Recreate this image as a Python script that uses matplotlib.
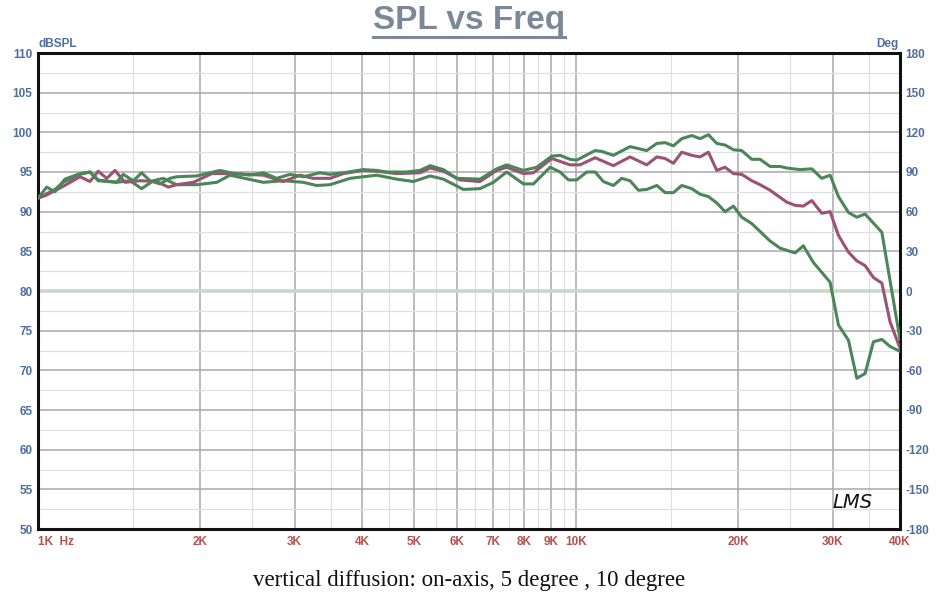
import numpy as np
import matplotlib
matplotlib.use("Agg")
import matplotlib.pyplot as plt
from matplotlib.ticker import FixedLocator, NullFormatter
from matplotlib.lines import Line2D

plt.rcParams['font.family'] = ['Liberation Sans', 'DejaVu Sans']
plt.rcParams['axes.unicode_minus'] = False

# frequencies in kHz, levels in dBSPL
f_on = [1.000, 1.038, 1.075, 1.122, 1.197, 1.249, 1.294, 1.400, 1.440, 1.504,
        1.558, 1.615, 1.685, 1.759, 1.810, 1.972, 2.178, 2.274, 2.478, 2.623,
        2.777, 2.940, 3.113, 3.340, 3.490, 3.694, 4.024, 4.261, 4.448, 4.845,
        5.129, 5.355, 5.668, 6.000, 6.630, 7.120, 7.432, 7.984, 8.454, 9.012,
        9.339, 9.746, 10.03, 10.85, 11.16, 11.73, 12.60, 13.53, 14.13, 14.64,
        15.17, 15.72, 16.41, 17.00, 17.62, 18.26, 18.92, 19.61, 20.32, 21.21,
        21.98, 22.94, 23.94, 24.64, 26.08, 27.42, 28.62, 29.66, 30.74, 32.08,
        33.25, 34.45, 37.01, 40.00]
spl_on = [91.7, 93.1, 92.5, 94.1, 94.8, 95.0, 93.9, 93.7, 94.7, 93.9,
          94.9, 93.9, 93.5, 94.2, 94.4, 94.5, 95.2, 94.9, 94.6, 94.9,
          94.2, 94.7, 94.4, 94.9, 94.7, 94.9, 95.3, 95.2, 95.0, 95.0,
          95.2, 95.8, 95.3, 94.2, 94.1, 95.4, 95.9, 95.2, 95.6, 97.0,
          97.1, 96.6, 96.5, 97.7, 97.6, 97.1, 98.2, 97.7, 98.6, 98.7,
          98.3, 99.2, 99.6, 99.2, 99.7, 98.6, 98.4, 97.8, 97.7, 96.6,
          96.6, 95.7, 95.7, 95.5, 95.3, 95.4, 94.2, 94.6, 91.9, 89.9,
          89.3, 89.7, 87.4, 73.9]

f_5 = [1.000, 1.038, 1.114, 1.197, 1.249, 1.294, 1.342, 1.390, 1.451, 1.547,
       1.661, 1.746, 1.810, 1.944, 2.104, 2.274, 2.623, 2.856, 3.071, 3.246,
       3.490, 3.694, 4.024, 4.261, 4.642, 5.129, 5.355, 5.668, 6.086, 6.630,
       7.120, 7.432, 7.984, 8.333, 9.012, 9.746, 10.17, 10.85, 11.73, 12.60,
       13.53, 14.13, 14.64, 15.17, 15.72, 16.41, 17.00, 17.62, 18.26, 18.92,
       19.61, 20.32, 21.21, 21.98, 22.94, 23.94, 24.64, 25.53, 26.45, 27.42,
       28.62, 29.66, 30.74, 32.08, 33.25, 34.45, 35.70, 37.01, 38.34, 40.00]
spl_5 = [91.7, 92.1, 93.2, 94.4, 93.8, 95.1, 94.2, 95.2, 93.7, 93.9,
         93.8, 93.1, 93.4, 93.7, 94.8, 94.8, 94.6, 93.8, 94.6, 94.2,
         94.2, 94.8, 95.2, 95.1, 94.8, 94.9, 95.5, 95.1, 94.0, 93.8,
         95.2, 95.6, 94.8, 94.9, 96.7, 95.9, 95.9, 96.8, 95.8, 96.9,
         95.9, 96.9, 96.7, 96.1, 97.5, 97.1, 96.9, 97.5, 95.2, 95.6,
         94.8, 94.7, 93.9, 93.4, 92.7, 91.8, 91.2, 90.8, 90.7, 91.4,
         89.8, 90.0, 87.0, 84.9, 83.8, 83.2, 81.7, 81.0, 76.1, 72.8]

f_10 = [1.000, 1.075, 1.114, 1.197, 1.249, 1.294, 1.400, 1.483, 1.558, 1.638,
        1.709, 1.810, 1.972, 2.150, 2.274, 2.623, 2.856, 3.113, 3.293, 3.490,
        3.801, 4.024, 4.261, 4.642, 4.985, 5.355, 5.668, 6.174, 6.630, 7.019,
        7.432, 7.984, 8.333, 8.947, 9.339, 9.680, 10.03, 10.47, 10.85, 11.24,
        11.73, 12.16, 12.60, 13.06, 13.53, 14.13, 14.64, 15.17, 15.72, 16.41,
        17.00, 17.62, 18.26, 18.92, 19.61, 20.32, 21.21, 21.98, 22.94, 23.94,
        25.53, 26.45, 27.61, 29.66, 30.74, 32.08, 33.25, 34.45, 35.70, 37.01,
        38.34, 40.00]
spl_10 = [91.7, 92.8, 93.7, 94.7, 95.0, 94.0, 93.7, 93.9, 92.9, 93.9,
          94.2, 93.4, 93.4, 93.7, 94.6, 93.7, 93.9, 93.7, 93.3, 93.4,
          94.2, 94.4, 94.6, 94.1, 93.8, 94.5, 94.1, 92.8, 92.9, 93.7,
          95.0, 93.5, 93.5, 95.6, 95.0, 94.0, 94.0, 95.0, 95.0, 93.8,
          93.3, 94.2, 93.9, 92.7, 92.8, 93.3, 92.4, 92.4, 93.3, 92.9,
          92.2, 91.9, 91.1, 90.0, 90.7, 89.3, 88.5, 87.5, 86.3, 85.4,
          84.8, 85.7, 83.6, 81.1, 75.7, 73.8, 69.0, 69.6, 73.6, 73.9,
          73.0, 72.4]

freq_ticks = [1, 2, 3, 4, 5, 6, 7, 8, 9, 10, 20, 30, 40]
freq_labels = ['1K  Hz', '2K', '3K', '4K', '5K', '6K', '7K', '8K', '9K', '10K',
               '20K', '30K', '40K']
freq_minor = [1.5, 2.5, 3.5, 4.5, 5.5, 6.5, 7.5, 8.5, 9.5, 15, 25, 35]

green = '#4b8658'
mauve = '#9c5272'
blue_lbl = '#4f6e9f'
red_lbl = '#b5524f'

fig = plt.figure(figsize=(9.47, 6.0), dpi=100)
ax = fig.add_axes([38 / 947, 1 - 529 / 600, 862 / 947, 476 / 600])

ax.set_xscale('log')
ax.set_xlim(1, 40)
ax.set_ylim(50, 110)

ax.xaxis.set_major_locator(FixedLocator(freq_ticks))
ax.xaxis.set_minor_locator(FixedLocator(freq_minor))
ax.xaxis.set_minor_formatter(NullFormatter())
ax.set_xticklabels(freq_labels)
ax.yaxis.set_major_locator(FixedLocator(np.arange(50, 111, 5)))
ax.yaxis.set_minor_locator(FixedLocator(np.arange(52.5, 110, 5)))

ax.grid(which='major', color='#a8a8a8', lw=1.1, zorder=0)
ax.grid(which='minor', color='#e0e0e0', lw=0.9, zorder=0)
ax.set_axisbelow(True)
ax.axhline(80, color='#c8d8c8', lw=2.6, zorder=1)

ax.tick_params(which='both', length=0)
ax.tick_params(axis='x', pad=5, labelsize=8.5, labelcolor=red_lbl)
ax.tick_params(axis='y', pad=4, labelsize=8.5, labelcolor=blue_lbl)
for t in ax.get_xticklabels() + ax.get_yticklabels():
    t.set_fontweight('bold')
ax.get_xticklabels()[0].set_horizontalalignment('left')

for s in ax.spines.values():
    s.set_linewidth(2.2)
    s.set_color('#111111')

ax.plot(f_10, spl_10, color=green, lw=2.2, zorder=3)
ax.plot(f_5, spl_5, color=mauve, lw=2.2, zorder=4)
ax.plot(f_on, spl_on, color=green, lw=2.2, zorder=5)

ax2 = ax.twinx()
ax2.set_ylim(-180, 180)
ax2.yaxis.set_major_locator(FixedLocator(np.arange(-180, 181, 30)))
ax2.tick_params(length=0, pad=4, labelsize=8.5, labelcolor=blue_lbl)
for t in ax2.get_yticklabels():
    t.set_fontweight('bold')
for s in ax2.spines.values():
    s.set_visible(False)

ax.text(0, 1.006, 'dBSPL', transform=ax.transAxes, ha='left', va='bottom',
        fontsize=8.5, fontweight='bold', color=blue_lbl)
ax.text(0.998, 1.006, 'Deg', transform=ax.transAxes, ha='right', va='bottom',
        fontsize=8.5, fontweight='bold', color=blue_lbl)
ax.text(0.945, 0.035, 'LMS', transform=ax.transAxes, ha='center', va='bottom',
        fontsize=14, style='italic', color='#111111',
        family=['DejaVu Sans'], fontweight='light')

title = fig.text(0.4955, 0.966, 'SPL vs Freq', ha='center', va='center',
                 fontsize=24, fontweight='bold', color='#7b8898')
fig.text(0.4955, 0.033, 'vertical diffusion: on-axis, 5 degree , 10 degree',
         ha='center', va='center', fontsize=16.5, color='#111111',
         family=['Liberation Serif', 'DejaVu Serif'])

# underline the title
fig.canvas.draw()
bb = title.get_window_extent()
y_ul = (bb.y0 - 1) / fig.bbox.height
fig.add_artist(Line2D([bb.x0 / fig.bbox.width, bb.x1 / fig.bbox.width],
                      [y_ul, y_ul], transform=fig.transFigure,
                      color='#7b8898', lw=2.2))

fig.savefig('out.png', dpi=100)
